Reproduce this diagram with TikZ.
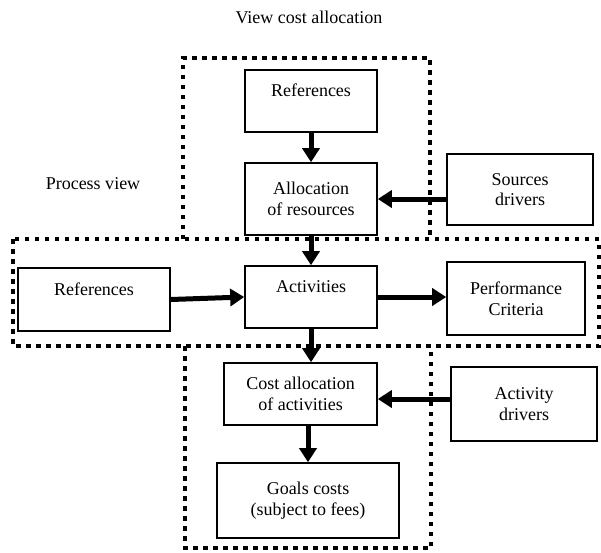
\documentclass[tikz,border=0pt]{standalone}
\usepackage{fontspec}
\setmainfont{Liberation Serif}
\usetikzlibrary{arrows.meta}
\begin{document}
\begin{tikzpicture}[x=1pt,y=-1pt,
  every node/.style={font=\fontsize{18}{20.7}\selectfont},
  box/.style={draw, line width=1.6pt, inner sep=0pt, align=center},
  dotbox/.style={line width=4.5pt, dash pattern=on 4.5pt off 5.5pt},
  arr/.style={line width=5pt, -{Triangle[length=14pt,width=17pt]}}]
\useasboundingbox (0,0) rectangle (601,552);
% dotted frames
\draw[dotbox] (183,239) -- (183,58) -- (430,58) -- (430,239);
\draw[dotbox] (13,239) rectangle (599,346);
\draw[dotbox] (185,346) -- (185,548) -- (431,548) -- (431,346);
% labels
\node (title) at (309,17) {View cost allocation};
\node (pview) at (93,184) {Process view};
% boxes
\node[box, minimum width=132pt, minimum height=62pt] (refT) at (311,101) {References\\~};
\node[box, minimum width=132pt, minimum height=72pt] (alloc) at (311,199) {Allocation\\of resources};
\node[box, minimum width=146pt, minimum height=71pt] (src) at (520,189.5) {Sources\\drivers};
\node[box, minimum width=152pt, minimum height=63pt] (refL) at (94,299.5) {References\\~};
\node[box, minimum width=132pt, minimum height=62pt] (act) at (311,297) {Activities\\~};
\node[box, minimum width=138pt, minimum height=73pt] (perf) at (516,298.5) {Performance\\Criteria};
\node[box, minimum width=153pt, minimum height=62pt] (cost) at (300.5,394) {Cost allocation\\of activities};
\node[box, minimum width=146pt, minimum height=74pt] (actdrv) at (524,404) {Activity\\drivers};
\node[box, minimum width=182pt, minimum height=75pt] (goals) at (308,500.5) {Goals costs\\(subject to fees)};
% arrows
\draw[arr] (refT.south) -- (alloc.north);
\draw[arr] (alloc.south) -- (act.north);
\draw[arr] (src.west |- alloc.east) -- (alloc.east);
\draw[arr] (refL.east) -- (act.west);
\draw[arr] (act.east) -- (perf.west |- act.east);
\draw[arr] (act.south) -- (act.south |- cost.north);
\draw[arr] ([yshift=5pt]actdrv.west) -- ([yshift=-5pt]cost.east);
\draw[arr] (goals.north |- cost.south) -- (goals.north);
\end{tikzpicture}
\end{document}
